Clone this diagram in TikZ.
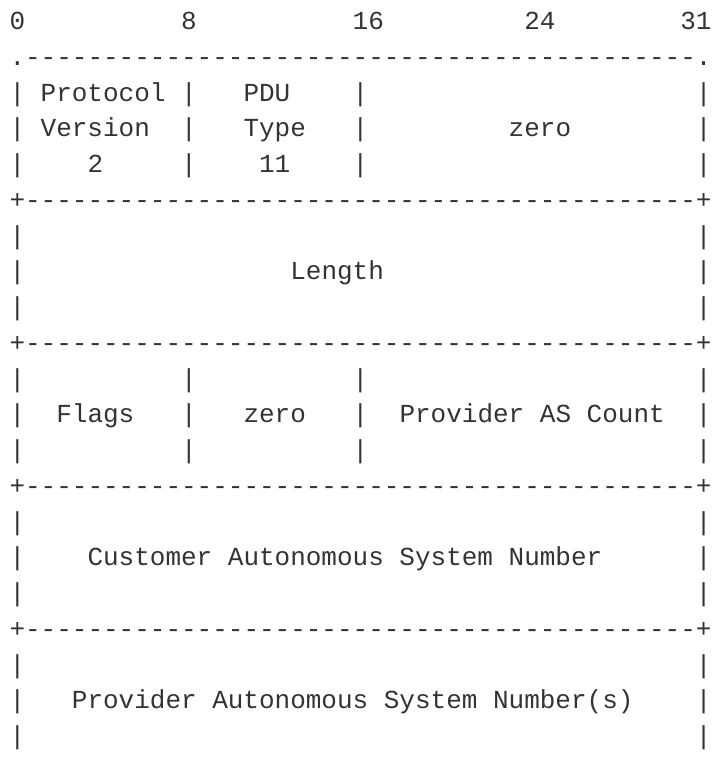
\documentclass[tikz,border=0pt]{standalone}
\usepackage{fontspec}
\setmonofont{Liberation Mono}
\usepackage{xcolor}
\usepackage{tikz}
\definecolor{asciigray}{HTML}{333333}

\tikzset{ascii/.style={font=\ttfamily\fontsize{26}{26}\selectfont, text=asciigray,
  inner sep=0pt, outer sep=0pt, anchor=base west}}

\def\xo{9.5}
\def\yo{29.5}
\def\cw{15.6}
\def\rh{35.75}
\def\dashes{-------------------------------------------}
\newcommand\cell[4]{\node[ascii] (#1) at ({\xo+\cw*#2},{\yo+\rh*#3}) {#4};}

\begin{document}
\begin{tikzpicture}[x=1pt,y=-1pt]
\useasboundingbox (0,0) rectangle (712,769);
\clip (0,0) rectangle (712,769);

\foreach \n/\c in {0/0,8/11,16/22,24/33,31/43} {
\cell{bit\n}{\c}{0}{\n}
}

\foreach \r/\k in {1/.,5/+,9/+,13/+,17/+} {
\cell{cornerL\r}{0}{\r}{\k}
\cell{rule\r}{1}{\r}{\dashes}
\cell{cornerR\r}{44}{\r}{\k}
}

\foreach \r in {2,3,4,6,7,8,10,11,12,14,15,16,18,19,20} {
\cell{barL\r}{0}{\r}{|}
\cell{barR\r}{44}{\r}{|}
}
\foreach \r in {2,3,4,10,11,12} {
\cell{barA\r}{11}{\r}{|}
\cell{barB\r}{22}{\r}{|}
}

\cell{protocol}{2}{2}{Protocol}
\cell{pdu}{15}{2}{PDU}
\cell{version}{2}{3}{Version}
\cell{type}{15}{3}{Type}
\cell{zeroA}{32}{3}{zero}
\cell{vernum}{5}{4}{2}
\cell{typenum}{16}{4}{11}

\cell{length}{18}{7}{Length}

\cell{flags}{3}{11}{Flags}
\cell{zeroB}{15}{11}{zero}
\cell{pcount}{25}{11}{Provider AS Count}

\cell{customer}{5}{15}{Customer Autonomous System Number}

\cell{provider}{4}{19}{Provider Autonomous System Number(s)}

% last row, cut off by the page edge
\cell{tildeL}{0}{21}{\textasciitilde}
\cell{tildeR}{44}{21}{\textasciitilde}
\end{tikzpicture}
\end{document}
